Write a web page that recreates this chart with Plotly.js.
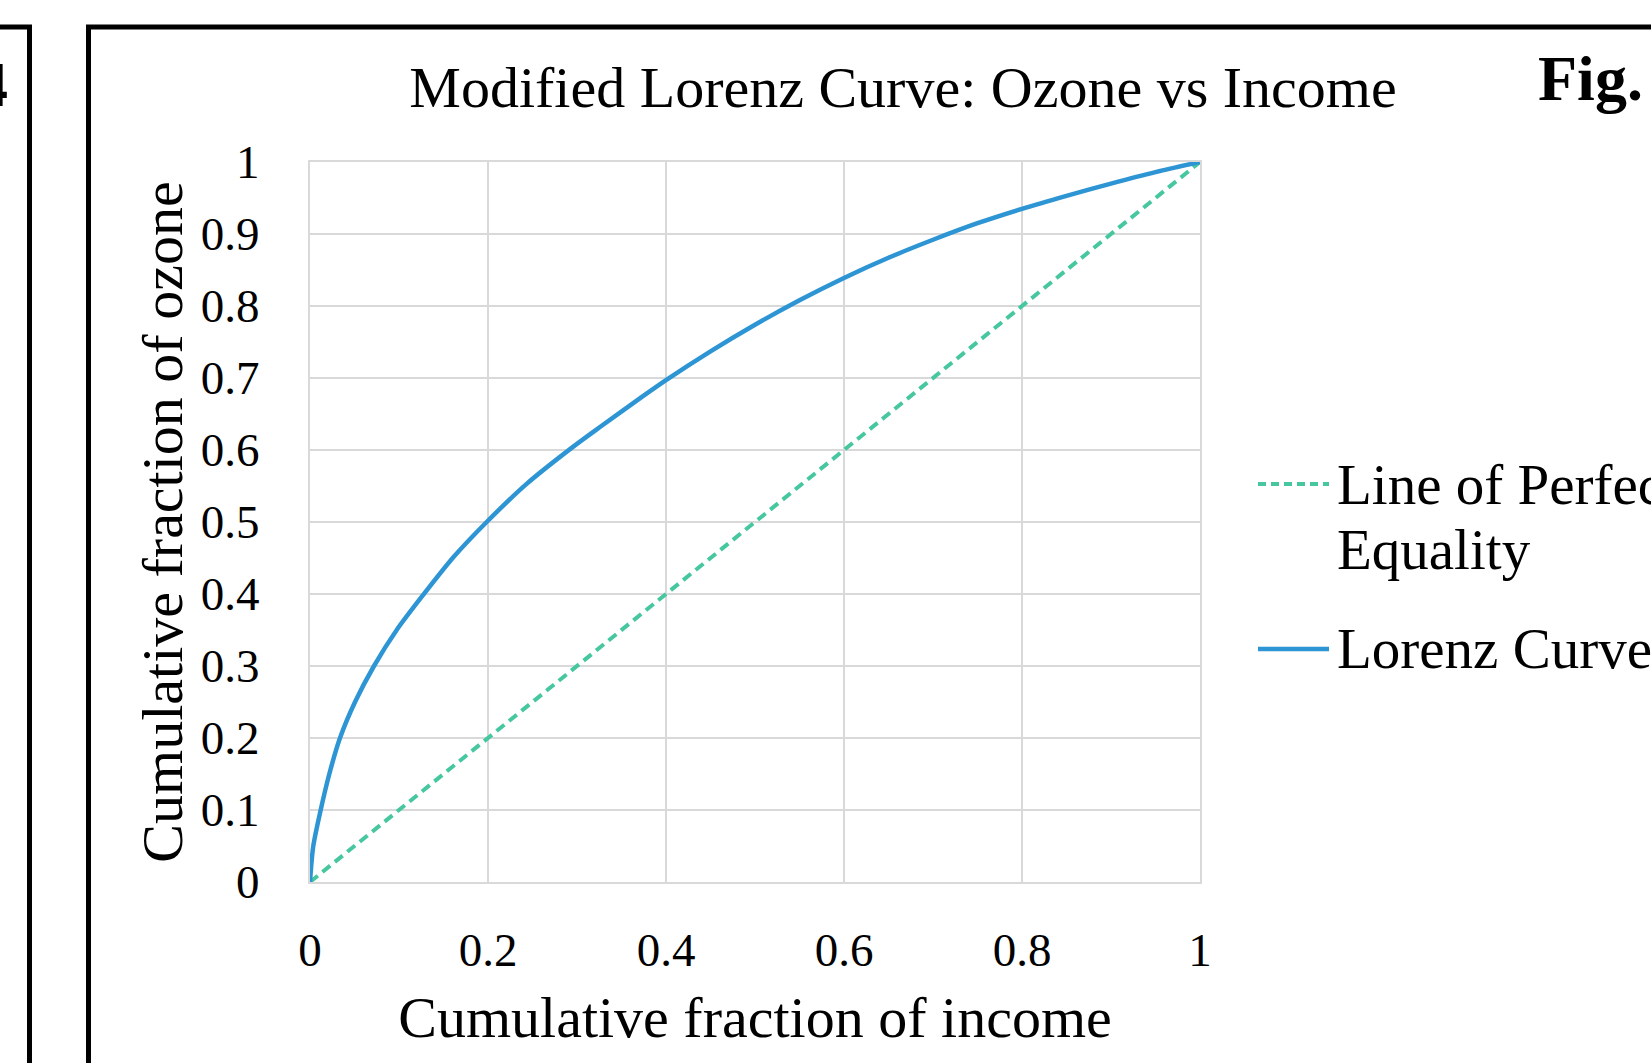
<!DOCTYPE html>
<html>
<head>
<meta charset="utf-8">
<script src="https://cdn.plot.ly/plotly-3.0.1.min.js"></script>
<style>
html,body{margin:0;padding:0;background:#fff;overflow:hidden;}
#chart{width:1651px;height:1063px;}
</style>
</head>
<body>
<div id="chart"></div>
<script>
// ---- data ----
const incomeFraction = [0, 0.0037, 0.012, 0.0217, 0.0337, 0.0506, 0.0719, 0.0974, 0.128, 0.1618, 0.1985, 0.2434, 0.294, 0.327, 0.371, 0.4, 0.45, 0.5, 0.55, 0.6, 0.65, 0.7, 0.75, 0.8, 0.85, 0.9, 0.95, 1.0];
const ozoneFraction  = [0, 0.05, 0.1, 0.15, 0.2, 0.25, 0.3, 0.35, 0.4, 0.452, 0.5, 0.553, 0.603, 0.633, 0.672, 0.697, 0.737, 0.774, 0.808, 0.839, 0.867, 0.892, 0.915, 0.935, 0.953, 0.970, 0.986, 1.0];
const equalityX = [0, 1];
const equalityY = [0, 1];
const seriesNames = ["Line of Perfect Equality", "Lorenz Curve"];
const chartTitle = "Modified Lorenz Curve: Ozone vs Income";
const xTitle = "Cumulative fraction of income";
const yTitle = "Cumulative fraction of ozone";

const FONT = "Liberation Serif, Times New Roman, serif";
const GRID = "#d9d9d9";
const TEAL = "#47c7a0";
const BLUE = "#2e95d4";

const W = 1651, H = 1063;
const L = 310, R = 1200, T = 162, B = 882;
const px = x => (x - L) / (R - L);
const py = y => (B - y) / (B - T);

const traces = [
  {x: equalityX, y: equalityY, mode: "lines", name: seriesNames[0],
   line: {color: TEAL, width: 4, dash: "10px,6px"}, hoverinfo: "skip"},
  {x: incomeFraction, y: ozoneFraction, mode: "lines", name: seriesNames[1],
   line: {color: BLUE, width: 4.5, shape: "spline", smoothing: 0.8}, hoverinfo: "skip"}
];

const layout = {
  width: W, height: H,
  margin: {l: L, r: W - R, t: T, b: H - B, pad: 0},
  paper_bgcolor: "#fff", plot_bgcolor: "#fff",
  showlegend: false,
  font: {family: FONT, color: "#000"},
  title: {text: chartTitle, font: {family: FONT, size: 58, color: "#000"},
          xref: "container", x: 903 / W, xanchor: "center",
          yref: "container", y: 1 - 87 / H, yanchor: "middle"},
  xaxis: {range: [0, 1], dtick: 0.2, tick0: 0, showgrid: true, gridcolor: GRID, gridwidth: 2,
          showline: true, linecolor: GRID, linewidth: 2, mirror: true, zeroline: false,
          ticks: "", ticklabelstandoff: 26,
          tickfont: {family: FONT, size: 47, color: "#000"},
          title: {text: xTitle, font: {family: FONT, size: 58, color: "#000"}, standoff: 21},
          fixedrange: true},
  yaxis: {range: [0, 1], dtick: 0.1, tick0: 0, showgrid: true, gridcolor: GRID, gridwidth: 2,
          showline: true, linecolor: GRID, linewidth: 2, mirror: true, zeroline: false,
          ticks: "", ticklabelstandoff: 39,
          tickfont: {family: FONT, size: 47, color: "#000"},
          title: {text: yTitle, font: {family: FONT, size: 58, color: "#000"}, standoff: 0},
          fixedrange: true},
  shapes: [
    // outer frames
    {type: "line", xref: "paper", yref: "paper", x0: px(88.5), x1: px(88.5), y0: py(27), y1: py(1100),
     line: {color: "#000", width: 5}},
    {type: "line", xref: "paper", yref: "paper", x0: px(86), x1: px(1700), y0: py(27), y1: py(27),
     line: {color: "#000", width: 5}},
    {type: "line", xref: "paper", yref: "paper", x0: px(29.5), x1: px(29.5), y0: py(27), y1: py(1100),
     line: {color: "#000", width: 5}},
    {type: "line", xref: "paper", yref: "paper", x0: px(-20), x1: px(32), y0: py(27), y1: py(27),
     line: {color: "#000", width: 5}},
    // legend keys
    {type: "line", xref: "paper", yref: "paper", x0: px(1258), x1: px(1329), y0: py(484), y1: py(484),
     line: {color: TEAL, width: 4, dash: "8px,5px"}},
    {type: "line", xref: "paper", yref: "paper", x0: px(1258), x1: px(1329), y0: py(649), y1: py(649),
     line: {color: BLUE, width: 4.5}}
  ],
  annotations: [
    {xref: "paper", yref: "paper", x: px(1335), y: py(484), xanchor: "left", yanchor: "middle",
     text: "Line of Perfect", showarrow: false, font: {family: FONT, size: 57, color: "#000"}},
    {xref: "paper", yref: "paper", x: px(1335), y: py(549), xanchor: "left", yanchor: "middle",
     text: "Equality", showarrow: false, font: {family: FONT, size: 57, color: "#000"}},
    {xref: "paper", yref: "paper", x: px(1335), y: py(648), xanchor: "left", yanchor: "middle",
     text: "Lorenz Curve", showarrow: false, font: {family: FONT, size: 57, color: "#000"}},
    {xref: "paper", yref: "paper", x: px(1645), y: py(79), xanchor: "right", yanchor: "middle",
     text: "<b>Fig.</b>", showarrow: false, font: {family: FONT, size: 64, color: "#000"}},
    {xref: "paper", yref: "paper", x: px(10), y: py(85), xanchor: "right", yanchor: "middle",
     text: "<b>4</b>", showarrow: false, font: {family: FONT, size: 64, color: "#000"}}
  ]
};

Plotly.newPlot("chart", traces, layout, {staticPlot: true, displayModeBar: false});
</script>
</body>
</html>
